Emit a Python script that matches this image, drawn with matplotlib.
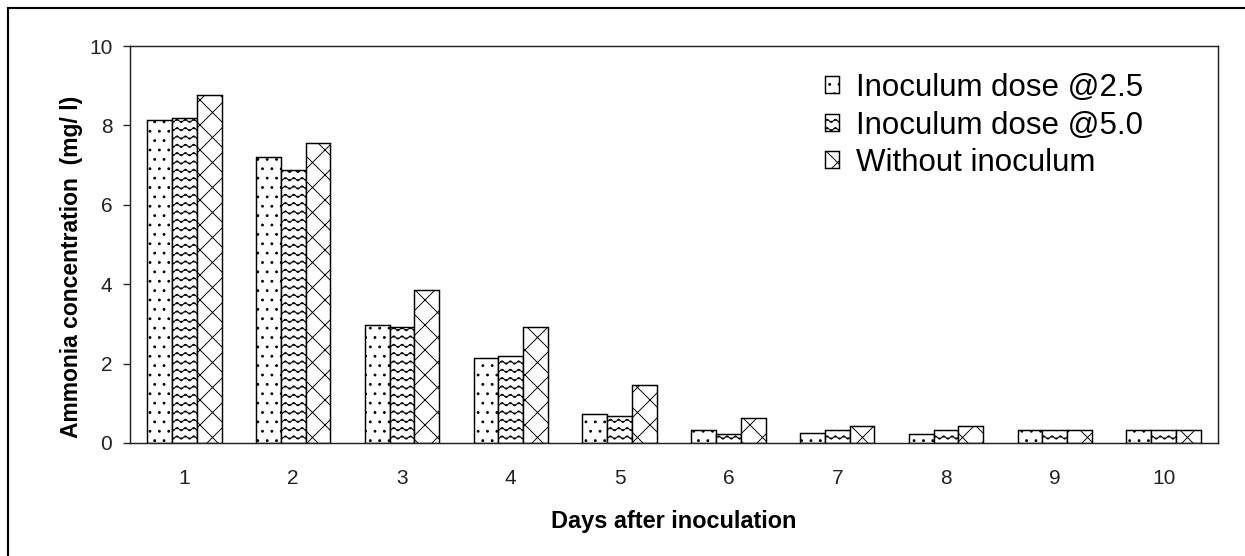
import numpy as np
import matplotlib
matplotlib.use("Agg")
import matplotlib.pyplot as plt
import matplotlib.hatch as mhatch
from matplotlib.path import Path
from matplotlib.lines import Line2D

days = ["1", "2", "3", "4", "5", "6", "7", "8", "9", "10"]
dose_25 = [8.14, 7.20, 2.96, 2.13, 0.72, 0.32, 0.24, 0.22, 0.33, 0.33]
dose_50 = [8.18, 6.87, 2.91, 2.18, 0.68, 0.23, 0.33, 0.33, 0.33, 0.33]
no_inoc = [8.77, 7.55, 3.85, 2.92, 1.46, 0.63, 0.44, 0.44, 0.33, 0.33]
labels = ["Inoculum dose @2.5", "Inoculum dose @5.0", "Without inoculum"]
yticks = [0, 2, 4, 6, 8, 10]


# custom hatches: '-' -> sparse dots, '|' -> wavy lines (vertical/horizontal hatches not used here)
class Dots(mhatch.Circles):
    size = 0.1
    filled = True

    def __init__(self, hatch, density):
        self.num_rows = hatch.count('-') * 8
        super().__init__(hatch, density)


class Waves(mhatch.HatchPatternBase):
    def __init__(self, hatch, density):
        self.num_rows = hatch.count('|') * 9
        self.num_waves = 9
        self.pts = self.num_waves * 8 + 1
        self.num_vertices = self.num_rows * self.pts

    def set_vertices_and_codes(self, vertices, codes):
        xs = np.linspace(0, 1, self.pts)
        for i in range(self.num_rows):
            y0 = (i + 0.5) / self.num_rows
            s = slice(i * self.pts, (i + 1) * self.pts)
            vertices[s, 0] = xs
            vertices[s, 1] = y0 + 0.022 * np.sin(2 * np.pi * self.num_waves * xs)
            codes[s] = Path.LINETO
            codes[i * self.pts] = Path.MOVETO


mhatch._hatch_types[mhatch._hatch_types.index(mhatch.HorizontalHatch)] = Dots
mhatch._hatch_types[mhatch._hatch_types.index(mhatch.VerticalHatch)] = Waves

plt.rcParams['font.family'] = ['Liberation Sans', 'DejaVu Sans']
plt.rcParams['hatch.linewidth'] = 0.9

fig = plt.figure(figsize=(1245 / 75, 556 / 75), dpi=75)
ax = fig.add_axes([130 / 1245, 1 - 443 / 556, 1088 / 1245, 397 / 556])

x = np.arange(len(days))
w = 0.228
hatches = ['-', '|', 'x']
for i, (vals, lab) in enumerate(zip([dose_25, dose_50, no_inoc], labels)):
    ax.bar(x + (i - 1) * w, vals, w, color='white', edgecolor='black',
           linewidth=1.4, hatch=hatches[i], label=lab)

ax.set_xlim(-0.5, len(days) - 0.5)
ax.set_ylim(0, 10)
ax.set_xticks(x)
ax.set_xticklabels(days)
ax.set_yticks(yticks)
ax.tick_params(axis='x', length=0, pad=25, labelsize=20, colors='#222222')
ax.tick_params(axis='y', length=7, width=1.3, pad=10, labelsize=20, colors='#222222')
for sp in ax.spines.values():
    sp.set_linewidth(1.4)
    sp.set_color('#222222')

ax.set_xlabel('Days after inoculation', fontsize=22.5, fontweight='bold')
ax.set_ylabel('Ammonia concentration  (mg/ l)', fontsize=22, fontweight='bold')
ax.xaxis.set_label_coords(0.5, -0.17)
ax.yaxis.set_label_coords(-0.043, 0.443)

ax.legend(loc='upper left', bbox_to_anchor=(0.639, 0.932), frameon=False,
          fontsize=30, borderpad=0, borderaxespad=0, labelspacing=0.24,
          handlelength=0.45, handleheight=0.45, handletextpad=0.55)

# outer frame (cut off on the right and bottom)
fig.add_artist(Line2D([8 / 1245, 1.01], [1 - 8 / 556, 1 - 8 / 556], color='black', lw=2))
fig.add_artist(Line2D([8 / 1245, 8 / 1245], [1 - 8 / 556, -0.01], color='black', lw=2))

fig.savefig('out.png', dpi=75)
